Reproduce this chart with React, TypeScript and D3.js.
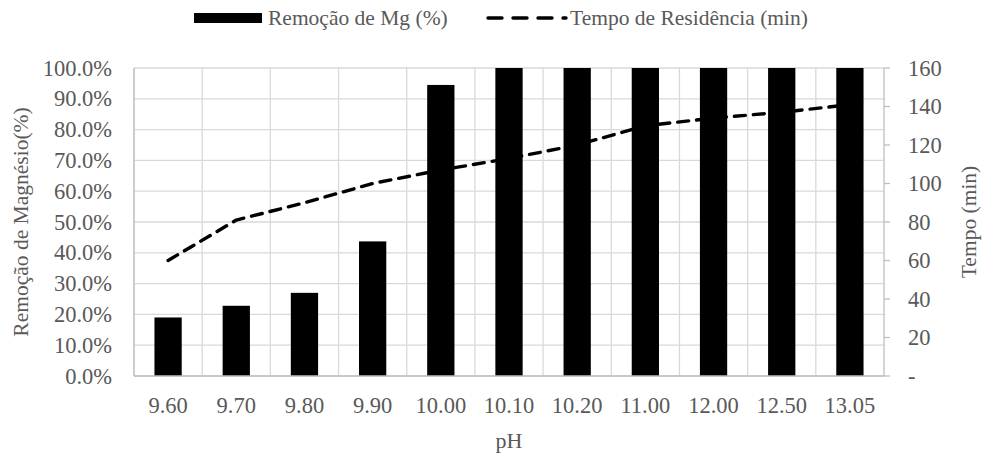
import React from "react";
import * as d3 from "d3";

const categories = ["9.60", "9.70", "9.80", "9.90", "10.00", "10.10", "10.20", "11.00", "12.00", "12.50", "13.05"];
const remocaoMg = [0.19, 0.228, 0.27, 0.437, 0.945, 1.0, 1.0, 1.0, 1.0, 1.0, 1.0];
const tempoResidencia = [60, 81, 90, 100, 107, 113, 120, 130, 134, 137, 141];
const leftTicks = [0, 0.1, 0.2, 0.3, 0.4, 0.5, 0.6, 0.7, 0.8, 0.9, 1.0];
const rightTicks = [0, 20, 40, 60, 80, 100, 120, 140, 160];

const W = 987;
const H = 459;
const left = 134;
const right = 884;
const top = 68;
const bottom = 376;
const textColor = "#595959";
const font = "Liberation Serif, DejaVu Serif, serif";
const ts: React.CSSProperties = { fontFamily: font };

export default function App() {
  const x = d3.scaleBand<string>().domain(categories).range([left, right]).paddingInner(0).paddingOuter(0);
  const yL = d3.scaleLinear().domain([0, 1]).range([bottom, top]);
  const yR = d3.scaleLinear().domain([0, 160]).range([bottom, top]);
  const barW = x.bandwidth() * 0.4;
  const line = d3
    .line<number>()
    .x((_, i) => (x(categories[i]) as number) + x.bandwidth() / 2)
    .y((d) => yR(d));

  return (
    <svg width={W} height={H} style={{ position: "absolute", left: 0, top: 0, background: "#fff" }}>
      <rect x={0} y={0} width={W} height={H} fill="#fff" />
      {leftTicks.map((t) => (
        <line key={"h" + t} x1={left} x2={right} y1={yL(t)} y2={yL(t)} stroke="#d9d9d9" strokeWidth={1.3} />
      ))}
      {categories.map((c) => (
        <line key={"v" + c} x1={x(c) as number} x2={x(c) as number} y1={top} y2={bottom} stroke="#d9d9d9" strokeWidth={1.3} />
      ))}
      {remocaoMg.map((v, i) => (
        <rect
          key={"b" + i}
          x={(x(categories[i]) as number) + (x.bandwidth() - barW) / 2}
          y={yL(v)}
          width={barW}
          height={bottom - yL(v)}
          fill="#000"
        />
      ))}
      <line x1={left} x2={right} y1={bottom} y2={bottom} stroke="#bfbfbf" strokeWidth={1.5} />
      <line x1={left} x2={left} y1={top} y2={bottom} stroke="#bfbfbf" strokeWidth={1.3} />
      <line x1={right} x2={right} y1={top} y2={bottom} stroke="#bfbfbf" strokeWidth={1.3} />
      {rightTicks.map((t) => (
        <line key={"rt" + t} x1={right} x2={right + 6} y1={yR(t)} y2={yR(t)} stroke="#bfbfbf" strokeWidth={1.3} />
      ))}
      <path
        d={line(tempoResidencia) || ""}
        fill="none"
        stroke="#000"
        strokeWidth={3.4}
        strokeDasharray="11 8"
        strokeLinecap="round"
        strokeLinejoin="round"
      />
      {leftTicks.map((t) => (
        <text key={"lt" + t} x={112} y={yL(t) + 7.5} textAnchor="end" fontSize={22.5} fill={textColor} style={ts}>
          {(t * 100).toFixed(1) + "%"}
        </text>
      ))}
      {rightTicks.map((t) => (
        <text key={"rl" + t} x={908} y={yR(t) + 7.5} textAnchor="start" fontSize={22.5} fill={textColor} style={ts}>
          {t === 0 ? "-" : String(t)}
        </text>
      ))}
      {categories.map((c) => (
        <text key={"xl" + c} x={(x(c) as number) + x.bandwidth() / 2} y={413} textAnchor="middle" fontSize={22.5} fill={textColor} style={ts}>
          {c}
        </text>
      ))}
      <text x={(left + right) / 2} y={448} textAnchor="middle" fontSize={22} fill={textColor} style={ts}>
        pH
      </text>
      <text
        transform={`translate(28,${(top + bottom) / 2}) rotate(-90)`}
        textAnchor="middle"
        fontSize={21.5}
        fill={textColor}
        style={ts}
      >
        Remoção de Magnésio(%)
      </text>
      <text
        transform={`translate(976,${(top + bottom) / 2}) rotate(-90)`}
        textAnchor="middle"
        fontSize={21.5}
        fill={textColor}
        style={ts}
      >
        Tempo (min)
      </text>
      <rect x={194} y={13} width={68} height={10} fill="#000" />
      <text x={268} y={25} fontSize={21.5} fill={textColor} style={ts}>
        Remoção de Mg (%)
      </text>
      <line x1={488} x2={566} y1={18} y2={18} stroke="#000" strokeWidth={3.4} strokeDasharray="14 11" strokeLinecap="round" />
      <text x={570} y={25} fontSize={21.5} fill={textColor} style={ts}>
        Tempo de Residência (min)
      </text>
    </svg>
  );
}
